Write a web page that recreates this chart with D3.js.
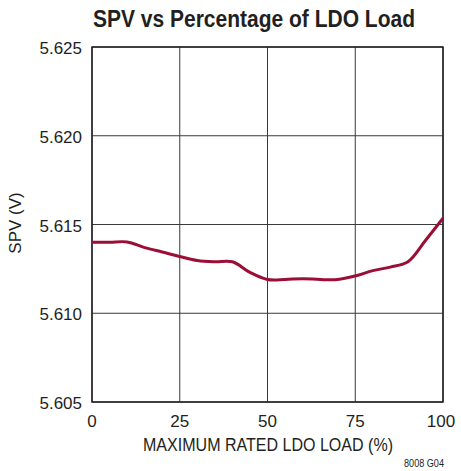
<!DOCTYPE html>
<html>
<head>
<meta charset="utf-8">
<script src="https://cdn.jsdelivr.net/npm/d3@7"></script>
<style>
  body { margin: 0; background: #fff; }
  text { font-family: "Liberation Sans", Arial, sans-serif; fill: #231f20; }
</style>
</head>
<body>
<div id="chart"></div>
<script>
// load in percent of max rated LDO load
var load = [0, 5, 10, 15, 20, 25, 30, 35, 40, 45, 50, 55, 60, 65, 70, 75, 80, 85, 90, 95, 100];
// SPV voltage
var spv = [5.6140, 5.6140, 5.61402, 5.6137, 5.61345, 5.6132, 5.61297, 5.6129, 5.6129, 5.6123, 5.6119,
           5.6119, 5.61195, 5.6119, 5.6119, 5.6121, 5.6124, 5.6126, 5.6129, 5.6141, 5.61535];

var xTicks = [0, 25, 50, 75, 100];
var yTicks = [5.605, 5.610, 5.615, 5.620, 5.625];

var width = 461, height = 471;
// plot box in pixels (note: "top" would clash with window.top)
var plotL = 92, plotR = 443, plotT = 47, plotB = 402;

var x = d3.scaleLinear().domain([0, 100]).range([plotL, plotR]);
var y = d3.scaleLinear().domain([5.605, 5.625]).range([plotB, plotT]);

var svg = d3.select('#chart').append('svg')
            .attr('width', width)
            .attr('height', height);

// grid
svg.append('g').selectAll('line').data(xTicks)
  .enter().append('line')
  .attr('x1', function(d){ return x(d); })
  .attr('x2', function(d){ return x(d); })
  .attr('y1', plotT).attr('y2', plotB)
  .attr('stroke', '#3a3a3a').attr('stroke-width', 1);

svg.append('g').selectAll('line').data(yTicks)
  .enter().append('line')
  .attr('x1', plotL).attr('x2', plotR)
  .attr('y1', function(d){ return y(d); })
  .attr('y2', function(d){ return y(d); })
  .attr('stroke', '#3a3a3a').attr('stroke-width', 1);

// frame
svg.append('rect')
  .attr('x', plotL).attr('y', plotT)
  .attr('width', plotR - plotL).attr('height', plotB - plotT)
  .attr('fill', 'none').attr('stroke', '#231f20').attr('stroke-width', 1.5);

// tick labels
svg.append('g').selectAll('text').data(yTicks)
  .enter().append('text')
  .attr('x', plotL - 10)
  .attr('y', function(d){ return y(d) + 7; })
  .attr('text-anchor', 'end')
  .attr('font-size', 17)
  .text(function(d){ return d3.format('.3f')(d); });

svg.append('g').selectAll('text').data(xTicks)
  .enter().append('text')
  .attr('x', function(d){ return d === 100 ? x(d) - 2 : x(d); })
  .attr('y', plotB + 25)
  .attr('text-anchor', 'middle')
  .attr('font-size', 17)
  .text(function(d){ return d; });

// curve
var line = d3.line()
  .x(function(d, i){ return x(load[i]); })
  .y(function(d){ return y(d); })
  .curve(d3.curveCatmullRom.alpha(0.5));

svg.append('path')
  .datum(spv)
  .attr('d', line)
  .attr('fill', 'none')
  .attr('stroke', '#9b0e36')
  .attr('stroke-width', 3);

// titles (condensed face squeezed with textLength)
svg.append('text')
  .attr('x', 93).attr('y', 27)
  .attr('font-size', 24)
  .attr('font-weight', 'bold')
  .attr('textLength', 322)
  .attr('lengthAdjust', 'spacingAndGlyphs')
  .text('SPV vs Percentage of LDO Load');

svg.append('text')
  .attr('x', 143).attr('y', 451)
  .attr('font-size', 18)
  .attr('textLength', 250)
  .attr('lengthAdjust', 'spacingAndGlyphs')
  .text('MAXIMUM RATED LDO LOAD (%)');

svg.append('text')
  .attr('transform', 'translate(21,223) rotate(-90)')
  .attr('text-anchor', 'middle')
  .attr('font-size', 17)
  .text('SPV (V)');

svg.append('text')
  .attr('x', 404).attr('y', 467)
  .attr('font-size', 10)
  .attr('textLength', 40)
  .attr('lengthAdjust', 'spacingAndGlyphs')
  .text('8008 G04');
</script>
</body>
</html>
